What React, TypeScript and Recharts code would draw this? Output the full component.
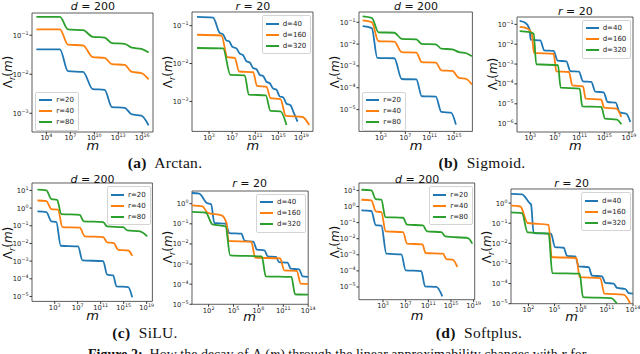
import React from 'react'
import { LineChart, Line, XAxis, YAxis, ReferenceArea } from 'recharts'

// points are [log10 m, log10 Λr(m)]
type Pt = [number, number]

// (a) Arctan, d = 200
const arctanR20: Pt[] = [[2.75, -1.36], [5.7, -1.36], [6.7, -1.92], [8.6, -1.94], [9.8, -2.38], [11.3, -2.4], [12.2, -2.84], [13.8, -2.86], [14.7, -3.03], [15.9, -3.06], [16.8, -3.31]]
const arctanR40: Pt[] = [[2.75, -0.85], [5.7, -0.85], [6.7, -1.24], [8.6, -1.26], [9.8, -1.56], [11.3, -1.58], [12.2, -1.74], [13.8, -1.76], [14.7, -1.94], [15.9, -1.97], [16.8, -2.13]]
const arctanR80: Pt[] = [[2.75, -0.53], [5.7, -0.53], [6.7, -0.85], [8.6, -0.87], [9.8, -1.04], [11.3, -1.06], [12.2, -1.2], [13.8, -1.22], [14.7, -1.32], [15.9, -1.35], [16.8, -1.44]]
// (a) Arctan, r = 20
const arctanD40: Pt[] = [[0.92, -0.77], [3.69, -0.79], [4.85, -1.19], [5.43, -1.23], [6.0, -1.39], [6.47, -1.41], [7.05, -1.56], [7.74, -1.6], [8.32, -1.74], [8.9, -1.78], [9.47, -1.94], [10.05, -1.97], [10.63, -2.12], [11.21, -2.15], [11.79, -2.3], [12.36, -2.33], [12.94, -2.48], [13.52, -2.52], [14.1, -2.66], [14.68, -2.69], [15.25, -2.87], [15.83, -2.89], [16.41, -3.06], [17.1, -3.1], [17.57, -3.26], [18.32, -3.53]]
const arctanD160: Pt[] = [[0.92, -1.24], [5.14, -1.26], [6.18, -1.83], [7.45, -1.85], [8.2, -2.21], [10.63, -2.23], [11.32, -2.59], [12.94, -2.61], [13.64, -2.91], [15.37, -2.94], [16.29, -3.38], [19.18, -3.41], [20.34, -3.62]]
const arctanD320: Pt[] = [[0.92, -1.59], [5.43, -1.6], [6.7, -2.3], [9.18, -2.31], [9.88, -2.82], [12.83, -2.84], [13.64, -3.25], [15.37, -3.26], [16.41, -3.62]]

// (b) Sigmoid, d = 200
const sigmoidR20: Pt[] = [[0, -1.18], [1.5, -1.27], [2.4, -2.63], [5.2, -2.65], [6.4, -3.6], [8.8, -3.62], [9.7, -4.39], [12.0, -4.41], [12.9, -5.11], [14.5, -5.14], [15.3, -5.69]]
const sigmoidR40: Pt[] = [[0, -0.91], [1.5, -1.0], [2.6, -1.87], [5.2, -1.89], [6.4, -2.37], [8.8, -2.39], [9.7, -2.83], [12.0, -2.85], [12.9, -3.2], [14.7, -3.23], [15.8, -3.55], [17.0, -3.6], [17.9, -3.85]]
const sigmoidR80: Pt[] = [[0, -0.73], [1.5, -0.8], [2.6, -1.46], [5.2, -1.48], [6.4, -1.76], [8.8, -1.78], [9.7, -1.99], [12.0, -2.01], [12.9, -2.21], [14.7, -2.24], [15.8, -2.37], [17.0, -2.42], [17.9, -2.56]]
// (b) Sigmoid, r = 20
const sigmoidD40: Pt[] = [[1.27, -0.83], [2.24, -0.93], [2.89, -1.27], [3.05, -1.77], [4.62, -1.81], [5.27, -2.31], [6.78, -2.34], [7.43, -2.83], [8.84, -2.86], [9.49, -3.35], [10.89, -3.38], [11.54, -3.87], [12.89, -3.9], [13.54, -4.39], [14.89, -4.42], [15.54, -4.91], [16.84, -4.94], [17.49, -5.43], [18.57, -5.5], [19.22, -5.92]]
const sigmoidD160: Pt[] = [[1.27, -1.13], [2.46, -1.2], [3.22, -1.44], [3.59, -2.44], [6.78, -2.48], [7.22, -3.37], [9.27, -3.4], [9.81, -4.07], [11.54, -4.12], [11.97, -4.74], [14.51, -4.79], [14.95, -5.19], [16.95, -5.24], [17.76, -5.66]]
const sigmoidD320: Pt[] = [[1.27, -1.34], [2.89, -1.39], [3.54, -1.47], [3.97, -3.01], [7.49, -3.06], [7.92, -4.19], [11.0, -4.24], [11.43, -5.13], [14.51, -5.16], [15.11, -5.75], [17.05, -5.8], [17.76, -6.03]]

// (c) SiLU, d = 200
const siluR20: Pt[] = [[0, -0.19], [1.55, -0.23], [2.42, -0.75], [3.29, -0.79], [4.05, -2.13], [7.07, -2.17], [7.83, -2.96], [11.43, -3.0], [12.13, -3.77], [13.17, -3.81], [13.76, -4.43], [15.79, -4.47], [16.49, -5.04]]
const siluR40: Pt[] = [[0, 0.43], [1.55, 0.4], [2.42, -0.06], [3.58, -0.09], [4.34, -1.08], [7.36, -1.11], [8.23, -1.6], [11.43, -1.64], [12.13, -1.94], [13.29, -1.98], [14.05, -2.36], [15.79, -2.4], [16.49, -2.7]]
const siluR80: Pt[] = [[0, 1.04], [1.55, 1.0], [2.42, 0.51], [3.41, 0.47], [4.16, -0.34], [7.36, -0.38], [8.06, -0.75], [11.43, -0.79], [12.13, -1.04], [14.92, -1.08], [15.62, -1.26], [17.83, -1.32], [19.1, -1.6]]
// (c) SiLU, r = 20
const siluD40: Pt[] = [[0, 0.53], [0.87, 0.5], [1.79, 0.03], [2.3, -0.03], [2.7, -0.96], [4.05, -0.99], [4.48, -1.46], [5.95, -1.49], [6.35, -1.85], [7.38, -1.89], [7.82, -2.28], [8.73, -2.32], [9.13, -2.62], [10.12, -2.65], [10.48, -2.9], [11.51, -2.93], [11.9, -3.23], [12.9, -3.26], [13.33, -3.61], [14.0, -3.64]]
const siluD160: Pt[] = [[0, -0.08], [1.27, -0.13], [1.9, -0.46], [3.57, -0.58], [4.17, -0.99], [4.4, -1.85], [7.14, -1.89], [7.62, -2.68], [10.63, -2.72], [11.11, -3.31], [12.62, -3.34], [13.1, -3.97], [14.0, -3.99]]
const siluD320: Pt[] = [[0, -0.41], [1.67, -0.45], [2.46, -1.03], [4.05, -1.13], [4.6, -2.57], [8.41, -2.62], [8.89, -3.61], [11.98, -3.64], [12.42, -4.5], [14.0, -4.52]]

// (d) Softplus, d = 200
const softplusR20: Pt[] = [[-0.82, -0.24], [0.94, -0.28], [1.71, -1.15], [2.71, -1.19], [3.59, -2.93], [6.24, -2.98], [7.0, -3.97], [9.76, -4.01], [10.41, -4.96], [12.41, -5.0], [13.47, -5.58]]
const softplusR40: Pt[] = [[-0.82, 0.42], [0.94, 0.38], [1.71, -0.3], [2.71, -0.35], [3.47, -1.55], [6.53, -1.59], [7.24, -2.31], [9.94, -2.35], [10.53, -2.89], [13.59, -2.93], [14.18, -3.27], [15.35, -3.31], [16.12, -3.76]]
const softplusR80: Pt[] = [[-0.82, 1.04], [0.94, 1.0], [1.71, 0.46], [2.71, 0.42], [3.41, -0.66], [6.53, -0.7], [7.24, -1.13], [10.06, -1.17], [10.76, -1.55], [13.29, -1.59], [14.0, -1.86], [18.0, -1.96], [18.76, -2.31]]
// (d) Softplus, r = 20
const softplusD40: Pt[] = [[0, 0.46], [1.26, 0.43], [2.14, 0], [2.3, -0.07], [2.6, -1.49], [4.59, -1.52], [5.05, -2.19], [6.04, -2.22], [6.43, -2.62], [7.38, -2.65], [7.77, -3.15], [8.91, -3.18], [9.3, -3.61], [10.44, -3.64], [10.83, -3.97], [11.78, -4.0], [12.17, -4.22], [13.12, -4.27], [13.5, -4.47], [14.0, -4.5]]
const softplusD160: Pt[] = [[0, -0.13], [1.07, -0.17], [1.91, -0.99], [4.32, -1.08], [4.67, -2.68], [7.5, -2.73], [7.88, -3.68], [10.25, -3.73], [10.71, -4.5], [12.93, -4.55], [13.7, -5.0]]
const softplusD320: Pt[] = [[0, -0.46], [1.26, -0.5], [1.91, -1.46], [4.32, -1.52], [4.74, -3.48], [7.88, -3.51], [8.26, -4.67], [11.48, -4.72], [12.17, -5.0]]

const rLabels = ['r=20', 'r=40', 'r=80']
const dLabels = ['d=40', 'd=160', 'd=320']

const COLORS = ['#1f77b4', '#ff7f0e', '#2ca02c']
const SANS = '"DejaVu Sans", sans-serif'
const SERIF = '"Liberation Serif", "DejaVu Serif", serif'

const YW = 30
const PT = 4
const PR = 14
const XH = 16

const expText = (v: number) => (v < 0 ? `\u2212${-v}` : `${v}`)

function XTick({ x, y, payload }: any) {
  return (
    <text x={x} y={y + 4.8} textAnchor="middle" fontSize={6.8} fontFamily={SANS} fill="#222">
      10<tspan dy={-3} fontSize={4.8}>{expText(payload.value)}</tspan>
    </text>
  )
}

function YTick({ x, y, payload }: any) {
  return (
    <text x={x} y={y + 2.5} textAnchor="end" fontSize={6.8} fontFamily={SANS} fill="#222">
      10<tspan dy={-3} fontSize={4.8}>{expText(payload.value)}</tspan>
    </text>
  )
}

interface PanelProps {
  frame: [number, number, number, number]
  xDomain: [number, number]
  yDomain: [number, number]
  xTicks: number[]
  yTicks: number[]
  series: Pt[][]
  labels: string[]
  legend: 'upper right' | 'lower left'
  title: React.ReactNode
  titleY: number
  xlabelY: number
}

function Legend({ labels, style }: { labels: string[]; style: React.CSSProperties }) {
  return (
    <div
      style={{
        position: 'absolute',
        background: 'rgba(255,255,255,0.85)',
        border: '1px solid #d4d4d4',
        borderRadius: 2,
        padding: '2px 4px 2px 3px',
        fontFamily: SANS,
        fontSize: 7,
        color: '#222',
        ...style,
      }}
    >
      {labels.map((l, i) => (
        <div key={l} style={{ display: 'flex', alignItems: 'center', height: 11 }}>
          <span style={{ width: 13, height: 2, background: COLORS[i], marginRight: 4 }} />
          <span>{l}</span>
        </div>
      ))}
    </div>
  )
}

function Panel(p: PanelProps) {
  const [fl, ft, fr, fb] = p.frame
  const w = fr - fl
  const h = fb - ft
  const legendStyle: React.CSSProperties =
    p.legend === 'upper right' ? { right: 640 - fr + 2, top: ft + 3 } : { left: fl + 3, top: fb - 40 }
  return (
    <>
      <div style={{ position: 'absolute', left: fl - YW, top: ft - PT }}>
        <LineChart width={YW + w + PR} height={PT + h + XH} margin={{ top: PT, right: PR, left: 0, bottom: 0 }}>
          <XAxis
            type="number"
            dataKey="x"
            domain={p.xDomain}
            ticks={p.xTicks}
            interval={0}
            allowDataOverflow
            axisLine={false}
            tickLine={{ stroke: '#333' }}
            tickSize={2.5}
            tickMargin={1}
            tick={<XTick />}
            height={XH}
          />
          <YAxis
            type="number"
            dataKey="y"
            domain={p.yDomain}
            ticks={p.yTicks}
            interval={0}
            allowDataOverflow
            axisLine={false}
            tickLine={{ stroke: '#333' }}
            tickSize={2.5}
            tickMargin={1}
            tick={<YTick />}
            width={YW}
          />
          <ReferenceArea
            x1={p.xDomain[0]}
            x2={p.xDomain[1]}
            y1={p.yDomain[0]}
            y2={p.yDomain[1]}
            fill="none"
            stroke="#333"
            strokeWidth={0.8}
            ifOverflow="visible"
          />
          {p.series.map((s, i) => (
            <Line
              key={i}
              data={s.map(([x, y]) => ({ x, y }))}
              dataKey="y"
              type="monotone"
              stroke={COLORS[i]}
              strokeWidth={1.8}
              dot={false}
              isAnimationActive={false}
            />
          ))}
        </LineChart>
      </div>
      <Legend labels={p.labels} style={legendStyle} />
      <div
        style={{
          position: 'absolute',
          left: (fl + fr) / 2,
          top: p.titleY,
          transform: 'translate(-50%, -50%)',
          fontFamily: SANS,
          fontSize: 11,
          whiteSpace: 'nowrap',
          color: '#111',
        }}
      >
        {p.title}
      </div>
      <div
        style={{
          position: 'absolute',
          left: fl - 23,
          top: (ft + fb) / 2,
          transform: 'translate(-50%, -50%) rotate(-90deg)',
          fontFamily: SANS,
          fontSize: 12,
          whiteSpace: 'nowrap',
          color: '#111',
        }}
      >
        Λ<sub style={{ fontSize: 8, fontStyle: 'italic' }}>r</sub>(<i>m</i>)
      </div>
      <div
        style={{
          position: 'absolute',
          left: (fl + fr) / 2,
          top: p.xlabelY,
          transform: 'translate(-50%, -50%)',
          fontFamily: SANS,
          fontSize: 13,
          lineHeight: '8px',
          fontStyle: 'italic',
          color: '#111',
        }}
      >
        m
      </div>
    </>
  )
}

const dTitle = (
  <>
    <i>d</i> = 200
  </>
)
const rTitle = (
  <>
    <i>r</i> = 20
  </>
)

function Caption({ x, y, tag, text }: { x: number; y: number; tag: string; text: string }) {
  return (
    <div
      style={{
        position: 'absolute',
        left: x,
        top: y,
        transform: 'translate(-50%, -50%)',
        fontFamily: SERIF,
        fontSize: 15.5,
        letterSpacing: 0.3,
        whiteSpace: 'nowrap',
        color: '#111',
      }}
    >
      <b>({tag})</b>&nbsp; {text}
    </div>
  )
}

export default function App() {
  return (
    <div style={{ position: 'absolute', left: 0, top: 0, width: 640, height: 354, overflow: 'hidden', background: '#fff' }}>
      <Panel
        frame={[32.3, 12.7, 153.3, 131.7]}
        xDomain={[2.2, 17.35]}
        yDomain={[-3.48, -0.43]}
        xTicks={[4, 7, 10, 13, 16]}
        yTicks={[-1, -2, -3]}
        series={[arctanR20, arctanR40, arctanR80]}
        labels={rLabels}
        legend="lower left"
        title={dTitle}
        titleY={6}
        xlabelY={146}
      />
      <Panel
        frame={[192.3, 12.3, 313.3, 131.7]}
        xDomain={[0.05, 21.0]}
        yDomain={[-3.79, -0.64]}
        xTicks={[3, 7, 11, 15, 19]}
        yTicks={[-1, -2, -3]}
        series={[arctanD40, arctanD160, arctanD320]}
        labels={dLabels}
        legend="upper right"
        title={rTitle}
        titleY={6}
        xlabelY={146}
      />
      <Panel
        frame={[359.3, 12.3, 472.7, 131.7]}
        xDomain={[-0.6, 18.0]}
        yDomain={[-6.0, -0.53]}
        xTicks={[3, 7, 11, 15]}
        yTicks={[-1, -2, -3, -4, -5]}
        series={[sigmoidR20, sigmoidR40, sigmoidR80]}
        labels={rLabels}
        legend="lower left"
        title={dTitle}
        titleY={6}
        xlabelY={146}
      />
      <Panel
        frame={[517.3, 16.7, 633.3, 131.7]}
        xDomain={[0.84, 19.65]}
        yDomain={[-6.42, -0.63]}
        xTicks={[3, 7, 11, 15, 19]}
        yTicks={[-1, -2, -3, -4, -5, -6]}
        series={[sigmoidD40, sigmoidD160, sigmoidD320]}
        labels={dLabels}
        legend="upper right"
        title={rTitle}
        titleY={11}
        xlabelY={146}
      />
      <Panel
        frame={[32.3, 183.3, 152.7, 301.7]}
        xDomain={[-0.95, 20.0]}
        yDomain={[-5.28, 1.42]}
        xTicks={[3, 7, 11, 15, 19]}
        yTicks={[1, 0, -1, -2, -3, -4, -5]}
        series={[siluR20, siluR40, siluR80]}
        labels={rLabels}
        legend="upper right"
        title={dTitle}
        titleY={179}
        xlabelY={316}
      />
      <Panel
        frame={[191.5, 190.7, 307.7, 304]}
        xDomain={[0, 14]}
        yDomain={[-5, 0.63]}
        xTicks={[2, 5, 8, 11, 14]}
        yTicks={[0, -1, -2, -3, -4, -5]}
        series={[siluD40, siluD160, siluD320]}
        labels={dLabels}
        legend="upper right"
        title={rTitle}
        titleY={183}
        xlabelY={317}
      />
      <Panel
        frame={[359.3, 183.3, 475, 300]}
        xDomain={[-1.24, 19.18]}
        yDomain={[-5.79, 1.46]}
        xTicks={[3, 7, 11, 15, 19]}
        yTicks={[1, 0, -1, -2, -3, -4, -5]}
        series={[softplusR20, softplusR40, softplusR80]}
        labels={rLabels}
        legend="upper right"
        title={dTitle}
        titleY={179}
        xlabelY={316}
      />
      <Panel
        frame={[510.7, 189.3, 632.7, 304]}
        xDomain={[0, 14]}
        yDomain={[-5, 0.7]}
        xTicks={[2, 5, 8, 11, 14]}
        yTicks={[0, -1, -2, -3, -4, -5]}
        series={[softplusD40, softplusD160, softplusD320]}
        labels={dLabels}
        legend="upper right"
        title={rTitle}
        titleY={183}
        xlabelY={317}
      />
      <Caption x={165} y={163} tag="a" text="Arctan." />
      <Caption x={482} y={163} tag="b" text="Sigmoid." />
      <Caption x={145} y={333} tag="c" text="SiLU." />
      <Caption x={479} y={333} tag="d" text="Softplus." />
      <div
        style={{
          position: 'absolute',
          left: 88,
          top: 347,
          fontFamily: SERIF,
          fontSize: 14,
          lineHeight: '16px',
          whiteSpace: 'nowrap',
          color: '#111',
        }}
      >
        <b>Figure 2:</b>&nbsp; How the decay of Λ<sub style={{ fontSize: 9 }}>r</sub>(<i>m</i>) through the linear
        approximability changes with <i>r</i> for
      </div>
    </div>
  )
}
